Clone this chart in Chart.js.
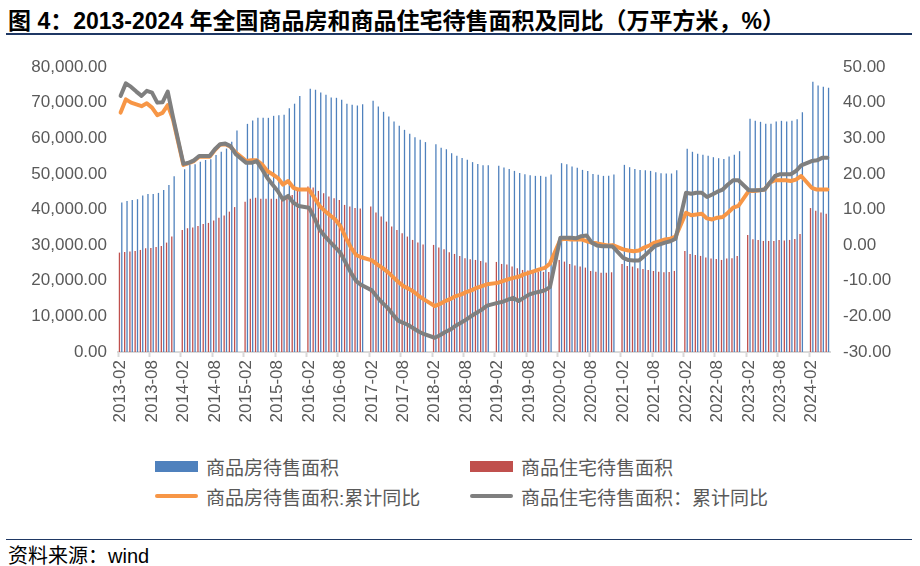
<!DOCTYPE html>
<html>
<head>
<meta charset="utf-8">
<script src="https://cdn.jsdelivr.net/npm/chart.js@4.4.1/dist/chart.umd.min.js"></script>
<style>
  body { margin: 0; width: 920px; height: 566px; background: #fff; position: relative; overflow: hidden;
         font-family: "Liberation Sans", "Noto Sans CJK SC", sans-serif; }
  #title { position: absolute; left: 8px; top: 2px; font-size: 23px; font-weight: bold; color: #000; white-space: nowrap;
           font-family: "Liberation Sans Narrow", "Liberation Sans", "Noto Sans CJK SC", sans-serif; }
  .rule { position: absolute; left: 6px; width: 906px; background: #1f3864; }
  #wrap { position: absolute; left: 0; top: 0; width: 920px; height: 445px; }
  #legend { position: absolute; left: 0; top: 0; }
  .item { position: absolute; height: 24px; display: flex; align-items: center; font-size: 19px; color: #595959; white-space: nowrap;
          font-family: "Liberation Sans", "Noto Sans CJK SC", sans-serif; }
  .sw { width: 43px; margin-right: 8px; }
  #source { position: absolute; left: 8px; top: 540px; font-size: 20px; color: #000; white-space: nowrap; }
</style>
</head>
<body>
<div id="title">图 4：2013-2024 年全国商品房和商品住宅待售面积及同比（万平方米，%）</div>
<div class="rule" style="top:33px;height:2px;"></div>
<div id="wrap"><canvas id="myChart"></canvas></div>
<div id="legend"></div>
<div class="rule" style="top:539px;height:1px;"></div>
<div id="source">资料来源：wind</div>

<script>
// months 2013-02 .. 2024-05 (January has no data)
const labels = [];
for (let y = 2013; y <= 2024; y++) {
  for (let m = 1; m <= 12; m++) {
    if (y === 2013 && m < 2) continue;
    if (y === 2024 && m > 5) continue;
    labels.push(y + '-' + String(m).padStart(2, '0'));
  }
}

const seriesNames = ['商品房待售面积', '商品住宅待售面积', '商品房待售面积:累计同比', '商品住宅待售面积：累计同比'];

// 万平方米
const houseArea = [
  41940, 42400, 42700, 42890, 43900, 44380, 44380, 44660, 45500, 46900, 49300,
  null, 51300, 52500, 52700, 53400, 53900, 54100, 55300, 56200, 57100, 59000, 62170,
  null, 64040, 65000, 65730, 65730, 65730, 66290, 66480, 66570, 68450, 69700, 71850,
  null, 73900, 73600, 72850, 72190, 71440, 71350, 70790, 69660, 69380, 69190, 69540,
  null, 70510, 68920, 67420, 66110, 64700, 63480, 62360, 61240, 60300, 59550, 58920,
  null, 58330, 57300, 56920, 55800, 55060, 54450, 53930, 53300, 52800, 52400, 52410,
  null, 52250, 51780, 51400, 50840, 50280, 49900, 49620, 49440, 49440, 49160, 49820,
  null, 53000, 52720, 52060, 51690, 51120, 50840, 50000, 49720, 49440, 49440, 49850,
  null, 52530, 51870, 51400, 51120, 51000, 50840, 50470, 50190, 50100, 50100, 51020,
  null, 57020, 56200, 55620, 55340, 55060, 54680, 54400, 54210, 54870, 55340, 56370,
  null, 65450, 64890, 64610, 64040, 64040, 64700, 64890, 64700, 64890, 65360, 67300,
  null, 75840, 74810, 74440, 74160
];
const homeArea = [
  27900, 28090, 28180, 28370, 28650, 29120, 29210, 29490, 29780, 30710, 32400,
  null, 34270, 34740, 34930, 35400, 35950, 36240, 36900, 37700, 38300, 39400, 40680,
  null, 42200, 43000, 43300, 43000, 43000, 43000, 43000, 43000, 43400, 44100, 45250,
  null, 46430, 46150, 45220, 44570, 43630, 43160, 42700, 41290, 40820, 40450, 40260,
  null, 40820, 39140, 38010, 36610, 35200, 34270, 33330, 32400, 31460, 30710, 30160,
  null, 30060, 29300, 28840, 28000, 27530, 26970, 26310, 26030, 25840, 25560, 25150,
  null, 25280, 24720, 24530, 23970, 23500, 23030, 22850, 22560, 22560, 22500, 22470,
  null, 25840, 25370, 24720, 24250, 23970, 23690, 22750, 22560, 22280, 22280, 22380,
  null, 24720, 24160, 23970, 23500, 23310, 23030, 22750, 22560, 22380, 22470, 22760,
  null, 28370, 27530, 27250, 26970, 26500, 26220, 26120, 25840, 26220, 26310, 26950,
  null, 32870, 31650, 31460, 31180, 31180, 31180, 31460, 31270, 31460, 31740, 33120,
  null, 40400, 39650, 39140, 38800
];
// %
const houseYoY = [
  37.2, 40.9, 40.0, 39.5, 39.0, 39.8, 38.6, 36.5, 37.1, 39.3, 35.3,
  null, 22.5, 23.0, 23.6, 24.8, 24.8, 24.8, 26.7, 28.2, 28.3, 27.6, 26.0,
  null, 23.6, 23.8, 23.8, 22.7, 20.8, 19.9, 18.9, 17.0, 18.0, 16.1, 15.6,
  null, 15.6, 13.3, 11.0, 9.6, 8.4, 7.2, 5.3, 2.1, -0.7, -2.8, -3.4,
  null, -4.3, -5.4, -6.4, -7.5, -8.9, -10.3, -11.5, -12.2, -13.1, -14.3, -15.3,
  null, -17.1, -16.5, -15.7, -15.1, -14.3, -13.9, -13.2, -12.7, -12.0, -11.5, -11.0,
  null, -10.6, -10.1, -9.6, -9.2, -8.9, -8.2, -7.8, -7.3, -6.8, -6.4, -5.2,
  null, 1.6, 1.8, 1.6, 1.6, 1.6, 1.1, 0.7, 0.5, 0.2, -0.1, 0.0,
  null, -1.2, -1.5, -1.7, -1.5, -0.7, -0.1, 0.7, 1.1, 1.6, 1.8, 2.4,
  null, 9.1, 8.4, 8.6, 8.8, 7.5, 7.2, 7.7, 7.9, 9.1, 10.5, 11.0,
  null, 15.2, 15.2, 15.4, 15.6, 17.5, 18.2, 18.2, 18.2, 18.0, 18.4, 19.4,
  null, 16.1, 15.6, 15.6, 15.6
];
const homeYoY = [
  41.9, 45.4, 44.4, 43.1, 41.9, 43.3, 42.8, 40.0, 40.1, 43.1, 36.0,
  null, 22.8, 23.1, 23.8, 25.0, 25.0, 25.0, 26.9, 28.3, 28.5, 27.8, 25.5,
  null, 23.1, 23.1, 23.6, 21.3, 18.9, 17.0, 15.2, 12.8, 13.8, 11.9, 11.0,
  null, 10.5, 7.7, 4.4, 2.5, 0.9, -0.6, -2.2, -5.0, -7.8, -10.1, -11.2,
  null, -12.7, -14.6, -16.2, -17.6, -19.5, -21.2, -21.8, -22.5, -23.4, -24.3, -25.0,
  null, -26.0, -25.3, -24.4, -23.7, -22.6, -21.8, -20.9, -19.9, -19.0, -18.1, -17.0,
  null, -16.2, -15.9, -15.3, -14.8, -15.7, -14.8, -13.9, -13.4, -13.1, -12.7, -11.8,
  null, 2.1, 2.1, 2.1, 1.9, 2.5, 2.7, 0.7, -0.1, -0.3, -0.3, -0.4,
  null, -3.6, -4.2, -4.3, -4.3, -3.1, -1.7, -0.3, 0.2, 0.7, 1.1, 1.8,
  null, 14.7, 14.4, 14.7, 14.7, 13.5, 14.2, 15.0, 15.6, 17.0, 18.2, 18.2,
  null, 15.4, 15.4, 15.4, 15.6, 17.5, 19.4, 19.9, 19.9, 19.9, 20.8, 22.4,
  null, 23.6, 23.8, 24.5, 24.5
];

const colors = ['#4F81BD', '#C0504D', '#F79646', '#7F7F7F'];
const axisGray = '#595959';
const tickFont = { family: '"Liberation Sans", Arial, sans-serif', size: 17 };

function isLabeled(i) {
  const l = labels[i];
  return l && (l.endsWith('-02') || l.endsWith('-08'));
}

const ctx = document.getElementById('myChart').getContext('2d');
const myChart = new Chart(ctx, {
  type: 'bar',
  data: {
    labels,
    datasets: [
      { type: 'bar', label: seriesNames[0], data: houseArea, backgroundColor: colors[0], yAxisID: 'y',
        barPercentage: 0.55, categoryPercentage: 0.9, order: 3 },
      { type: 'bar', label: seriesNames[1], data: homeArea, backgroundColor: colors[1], yAxisID: 'y',
        barPercentage: 0.55, categoryPercentage: 0.9, order: 2 },
      { type: 'line', label: seriesNames[2], data: houseYoY, borderColor: colors[2], backgroundColor: colors[2],
        borderWidth: 4, pointRadius: 0, spanGaps: true, tension: 0, yAxisID: 'y1', order: 1,
        borderJoinStyle: 'round', borderCapStyle: 'round' },
      { type: 'line', label: seriesNames[3], data: homeYoY, borderColor: colors[3], backgroundColor: colors[3],
        borderWidth: 4, pointRadius: 0, spanGaps: true, tension: 0, yAxisID: 'y1', order: 0,
        borderJoinStyle: 'round', borderCapStyle: 'round' }
    ]
  },
  options: {
    responsive: true,
    maintainAspectRatio: false,
    animation: false,
    layout: { padding: { top: 67, left: 0, right: 0, bottom: 0 } },
    plugins: { legend: { display: false }, tooltip: { enabled: false } },
    scales: {
      x: {
        offset: true,
        grid: {
          offset: true, drawOnChartArea: false, drawTicks: true, tickLength: 5, tickWidth: 2,
          tickColor: c => isLabeled(c.index) ? '#D9D9D9' : 'rgba(0,0,0,0)'
        },
        border: { display: true, color: '#D9D9D9', width: 2 },
        ticks: {
          autoSkip: false, minRotation: 90, maxRotation: 90, padding: 3,
          color: axisGray, font: tickFont,
          callback: function (v, i) { return isLabeled(i) ? labels[i] : ''; }
        },
        afterFit: s => { s.height = 445 - 352; }
      },
      y: {
        position: 'left', min: 0, max: 80000,
        grid: { display: false, drawTicks: false },
        border: { display: false },
        ticks: {
          stepSize: 10000, padding: 11, color: axisGray, font: tickFont,
          callback: v => v.toLocaleString('en-US', { minimumFractionDigits: 2, maximumFractionDigits: 2 })
        },
        afterFit: s => { s.width = 118; }
      },
      y1: {
        position: 'right', min: -30, max: 50,
        grid: { display: false, drawTicks: false },
        border: { display: false },
        ticks: {
          stepSize: 10, padding: 13, color: axisGray, font: tickFont,
          callback: v => v.toFixed(2)
        },
        afterFit: s => { s.width = 90; }
      }
    }
  }
});

// legend as html, 2 x 2 grid, built from the chart datasets
const legendBox = document.getElementById('legend');
const legendPos = [[155, 454], [470, 454], [155, 484], [470, 484]];
myChart.data.datasets.forEach((ds, i) => {
  const item = document.createElement('div');
  item.className = 'item';
  item.style.left = legendPos[i][0] + 'px';
  item.style.top = legendPos[i][1] + 'px';
  const sw = document.createElement('span');
  sw.className = 'sw';
  sw.style.background = ds.borderColor || ds.backgroundColor;
  if (ds.type === 'line') { sw.style.height = '4px'; sw.style.borderRadius = '2px'; }
  else { sw.style.height = '11px'; sw.style.background = ds.backgroundColor; }
  item.appendChild(sw);
  item.appendChild(document.createTextNode(ds.label));
  legendBox.appendChild(item);
});
</script>
</body>
</html>
